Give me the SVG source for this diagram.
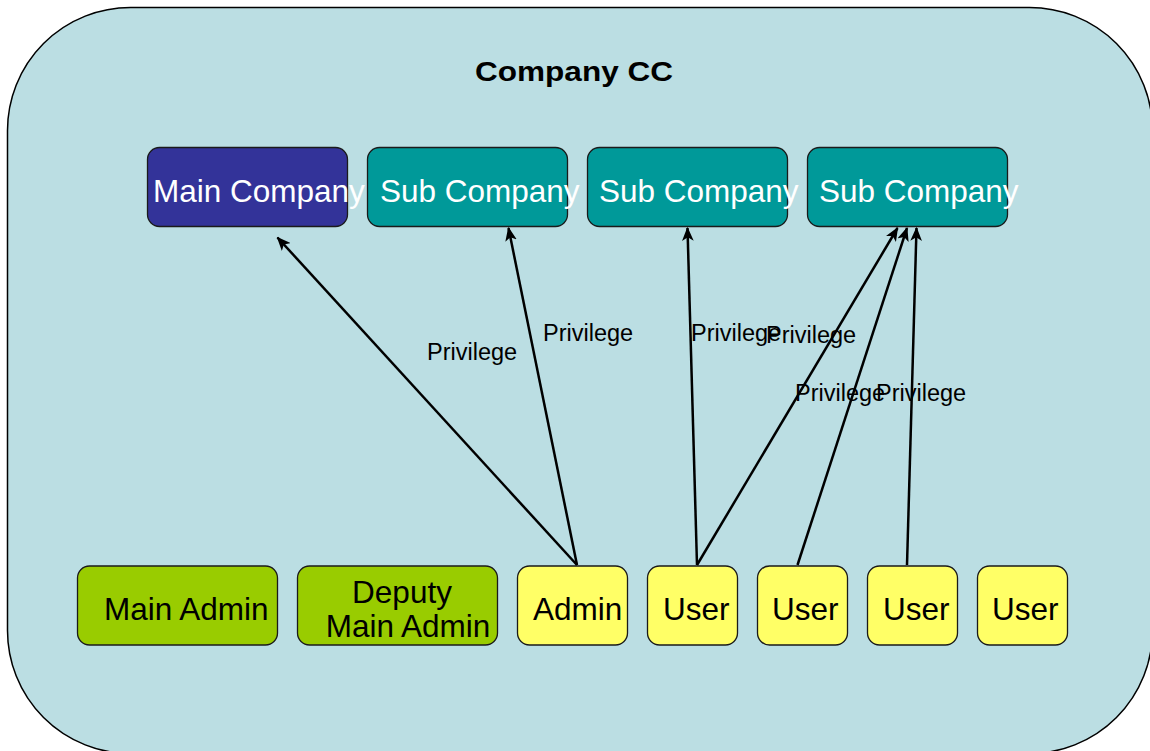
<svg xmlns="http://www.w3.org/2000/svg" width="1150" height="751" viewBox="0 0 1150 751">
  <style>
    .box { stroke: #1a1a1a; stroke-width: 1.3; }
    .main { fill: #333399; }
    .sub { fill: #009999; }
    .green { fill: #99CC00; }
    .yellow { fill: #FFFF66; }
    .wt { font-family: "Liberation Sans", Arial, sans-serif; font-size: 31.5px; fill: #ffffff; }
    .bt { font-family: "Liberation Sans", Arial, sans-serif; font-size: 31.5px; fill: #000000; }
    .lbl { font-family: "Liberation Sans", Arial, sans-serif; font-size: 23.5px; fill: #000000; }
    .title { font-family: "Liberation Sans", Arial, sans-serif; font-size: 28px; font-weight: bold; fill: #000000; }
    .edge { stroke: #000000; stroke-width: 2.5; fill: none; marker-end: url(#arrow); }
  </style>
  <defs>
    <marker id="arrow" viewBox="0 0 12 10" refX="11" refY="5" markerWidth="5.6" markerHeight="4.7" orient="auto" markerUnits="strokeWidth">
      <path d="M0,0 L12,5 L0,10 L3,5 Z" fill="#000000"/>
    </marker>
  </defs>

  <!-- Company container -->
  <g id="company-cc">
    <rect x="7.5" y="7.5" width="1145" height="746" rx="123" ry="123" fill="#BBDEE3" stroke="#000000" stroke-width="1.5"/>
    <text class="title" x="475" y="81" textLength="198" lengthAdjust="spacingAndGlyphs">Company CC</text>
  </g>

  <!-- Company nodes -->
  <g id="main-company">
    <rect class="box main" x="147.5" y="147.5" width="200" height="79" rx="12"/>
    <text class="wt" x="153" y="202">Main Company</text>
  </g>
  <g id="sub-company-1">
    <rect class="box sub" x="367.5" y="147.5" width="200" height="79" rx="12"/>
    <text class="wt" x="380" y="202">Sub Company</text>
  </g>
  <g id="sub-company-2">
    <rect class="box sub" x="587.5" y="147.5" width="200" height="79" rx="12"/>
    <text class="wt" x="599" y="202">Sub Company</text>
  </g>
  <g id="sub-company-3">
    <rect class="box sub" x="807.5" y="147.5" width="200" height="79" rx="12"/>
    <text class="wt" x="819" y="202">Sub Company</text>
  </g>

  <!-- Account nodes -->
  <g id="main-admin">
    <rect class="box green" x="77.5" y="566" width="200" height="79" rx="12"/>
    <text class="bt" x="104" y="620">Main Admin</text>
  </g>
  <g id="deputy-main-admin">
    <rect class="box green" x="297.5" y="566" width="200" height="79" rx="12"/>
    <text class="bt" x="402" y="603" text-anchor="middle">Deputy</text>
    <text class="bt" x="408" y="637" text-anchor="middle">Main Admin</text>
  </g>
  <g id="admin">
    <rect class="box yellow" x="517.5" y="566" width="110" height="79" rx="12"/>
    <text class="bt" x="533" y="620">Admin</text>
  </g>
  <g id="user-1">
    <rect class="box yellow" x="647.5" y="566" width="90" height="79" rx="12"/>
    <text class="bt" x="663" y="620">User</text>
  </g>
  <g id="user-2">
    <rect class="box yellow" x="757.5" y="566" width="90" height="79" rx="12"/>
    <text class="bt" x="772" y="620">User</text>
  </g>
  <g id="user-3">
    <rect class="box yellow" x="867.5" y="566" width="90" height="79" rx="12"/>
    <text class="bt" x="883" y="620">User</text>
  </g>
  <g id="user-4">
    <rect class="box yellow" x="977.5" y="566" width="90" height="79" rx="12"/>
    <text class="bt" x="992" y="620">User</text>
  </g>

  <!-- Privilege connectors -->
  <g id="connectors">
    <line class="edge" x1="577" y1="565" x2="277.5" y2="237.5"/>
    <line class="edge" x1="577" y1="565" x2="508.5" y2="228"/>
    <line class="edge" x1="697" y1="565" x2="687.5" y2="228"/>
    <line class="edge" x1="697" y1="565" x2="897.5" y2="228"/>
    <line class="edge" x1="797.5" y1="565" x2="907" y2="228"/>
    <line class="edge" x1="907" y1="565" x2="916.5" y2="228"/>
    <text class="lbl" x="427" y="360">Privilege</text>
    <text class="lbl" x="543" y="341">Privilege</text>
    <text class="lbl" x="691" y="341">Privilege</text>
    <text class="lbl" x="766" y="343">Privilege</text>
    <text class="lbl" x="795" y="401">Privilege</text>
    <text class="lbl" x="876" y="401">Privilege</text>
  </g>
</svg>
